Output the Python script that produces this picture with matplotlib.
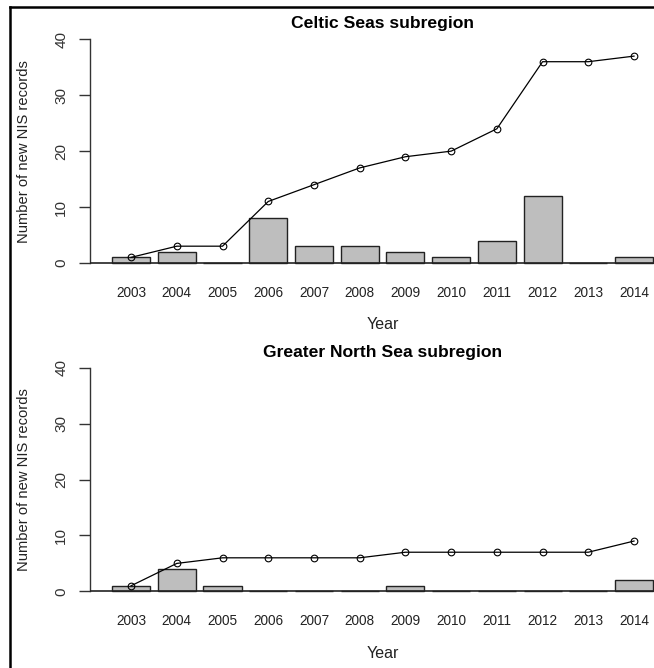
import matplotlib
matplotlib.use("Agg")
import matplotlib.pyplot as plt
from matplotlib.lines import Line2D
import numpy as np

plt.rcParams['font.family'] = ['Liberation Sans', 'DejaVu Sans']

years = ['2003', '2004', '2005', '2006', '2007', '2008',
         '2009', '2010', '2011', '2012', '2013', '2014']

celtic_new = [1, 2, 0, 8, 3, 3, 2, 1, 4, 12, 0, 1]
celtic_cum = [1, 3, 3, 11, 14, 17, 19, 20, 24, 36, 36, 37]

north_new = [1, 4, 1, 0, 0, 0, 1, 0, 0, 0, 0, 2]
north_cum = [1, 5, 6, 6, 6, 6, 7, 7, 7, 7, 7, 9]

panels = [
    ("Celtic Seas subregion", celtic_new, celtic_cum),
    ("Greater North Sea subregion", north_new, north_cum),
]

W, H = 654, 668
fig = plt.figure(figsize=(W / 100, H / 100), dpi=100)
fig.patch.set_facecolor('white')

# R barplot style geometry: width 1, space 0.2
n = len(years)
lefts = 0.2 + 1.2 * np.arange(n)
centers = lefts + 0.5
xlim = (-0.368, 14.968)
ylim = (-1.6, 41.6)

# axes boxes in pixels (left, top, width, height)
boxes = [(90.4, 30.4, 584.3, 241.5), (90.4, 358.8, 584.3, 241.5)]

narrow = ['Liberation Sans Narrow', 'Liberation Sans', 'DejaVu Sans']

for (title, new, cum), (px, py, pw, ph) in zip(panels, boxes):
    ax = fig.add_axes([px / W, 1 - (py + ph) / H, pw / W, ph / H])
    ax.set_facecolor('none')
    ax.bar(centers, new, width=1.0, color='#bebebe', edgecolor='#222222', linewidth=1.0, zorder=2)
    ax.axhline(0, color='#222222', linewidth=1.2, zorder=3)
    ax.plot(centers, cum, color='black', linewidth=0.9, marker='o', markersize=4.8,
            markerfacecolor='none', markeredgecolor='black', markeredgewidth=0.8, zorder=4)

    ax.set_xlim(xlim)
    ax.set_ylim(ylim)

    for s in ['top', 'right', 'bottom']:
        ax.spines[s].set_visible(False)
    ax.spines['left'].set_bounds(0, 40)
    ax.spines['left'].set_color('#333333')
    ax.spines['left'].set_linewidth(1.0)

    ax.set_yticks([0, 10, 20, 30, 40])
    ax.set_yticklabels(['0', '10', '20', '30', '40'], rotation=90, va='center', fontsize=11, color='#333333')
    ax.tick_params(axis='y', length=8, width=1.0, color='#333333', pad=8)

    ax.set_xticks(centers)
    ax.set_xticklabels(years, fontsize=9.8, color='#222222', family=narrow)
    ax.tick_params(axis='x', length=0, pad=10)

    ax.set_ylabel("Number of new NIS records", fontsize=10.6, color='#222222')
    ax.yaxis.set_label_coords(-59.4 / pw, 0.5)
    ax.set_xlabel("Year", fontsize=11.5, color='#222222', va='center', family=narrow)
    ax.xaxis.set_label_coords(0.5, -53 / ph)

    ax.text(0.5, 1 + 6.6 / ph, title, transform=ax.transAxes, ha='center', va='center',
            fontsize=12.6, fontweight='bold', color='black')

# outer frame (left and top edges only, the image is cropped)
fig.add_artist(Line2D([10 / W, 10 / W], [0, 1 - 7 / H], transform=fig.transFigure,
                      color='black', linewidth=1.8))
fig.add_artist(Line2D([10 / W, 1], [1 - 7 / H, 1 - 7 / H], transform=fig.transFigure,
                      color='black', linewidth=1.8))

fig.savefig("out.png", dpi=100, facecolor='white')
